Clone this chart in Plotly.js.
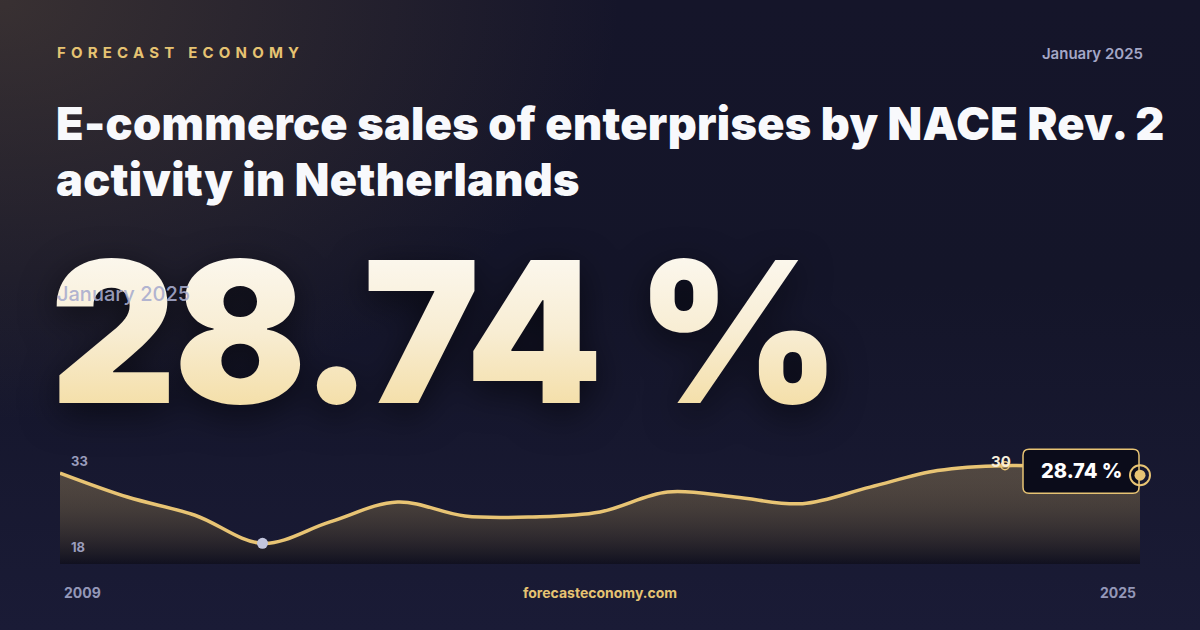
<!DOCTYPE html>
<html>
<head>
<meta charset="utf-8">
<script src="https://cdn.plot.ly/plotly-3.0.1.min.js"></script>
<style>
  html, body { margin: 0; padding: 0; }
  body {
    width: 1200px; height: 630px; overflow: hidden; position: relative;
    font-family: Inter, "Noto Sans", sans-serif;
    background:
      radial-gradient(ellipse 620px 420px at 0% 0%, rgba(100, 82, 60, 0.45), rgba(100, 82, 60, 0) 100%),
      linear-gradient(180deg, #15152a 0%, #141529 45%, #1a1b36 100%);
  }
  #chart { position: absolute; left: 0; top: 0; width: 1200px; height: 630px; }
  .txt { position: absolute; white-space: nowrap; }
  #brand { left: 57px; top: 43px; font-size: 15px; font-weight: 700; letter-spacing: 5.2px; color: #e6c372; }
  #date { right: 57px; top: 44px; font-size: 15px; font-weight: 600; color: #a4a7c6; }
  #title { left: 56px; top: 96px; font-size: 45px; font-weight: 900; line-height: 56px; color: #f8f9fc; letter-spacing: 0.3px; }
  #big {
    left: 50px; top: 222px; font-size: 196px; font-weight: 900; line-height: 220px; letter-spacing: -3px;
    background: linear-gradient(180deg, #fdfcf9 0%, #f8edd3 50%, #f2d894 100%);
    -webkit-background-clip: text; background-clip: text; -webkit-text-fill-color: transparent;
    filter: drop-shadow(0 10px 18px rgba(0, 0, 0, 0.55));
  }
  #bigdate { left: 57px; top: 282px; font-size: 20px; font-weight: 500; color: rgba(168, 172, 206, 0.9); }
</style>
</head>
<body>
<div id="chart"></div>
<div class="txt" id="brand">FORECAST ECONOMY</div>
<div class="txt" id="date">January 2025</div>
<div class="txt" id="title">E-commerce sales of enterprises by NACE Rev. 2<br>activity in Netherlands</div>
<div class="txt" id="big">28.74 %</div>
<div class="txt" id="bigdate">January 2025</div>
<script>
  const years = [2009, 2010, 2011, 2012, 2013, 2014, 2015, 2016, 2017, 2018, 2019, 2020, 2021, 2022, 2023, 2024, 2025];
  const sharePct = [29.0, 26.1, 23.9, 20.5, 23.1, 25.5, 23.8, 23.7, 24.3, 26.7, 26.1, 25.3, 27.3, 29.3, 29.9, 29.6, 28.74];
  const axisLabels = ["33", "18"];
  const latestLabel = "28.74 %";
  const peakLabel = "30";

  const gold = "#e8c474";
  const yRange = [18, 33];
  const last = years.length - 1;
  const minIdx = sharePct.indexOf(Math.min(...sharePct));
  const maxIdx = sharePct.indexOf(Math.max(...sharePct));

  const traces = [
    {
      x: years, y: sharePct, type: "scatter", mode: "lines",
      line: { color: gold, width: 3.5, shape: "spline", smoothing: 1 },
      fill: "tozeroy",
      fillgradient: {
        type: "vertical", start: 18, stop: 30,
        colorscale: [[0, "rgba(10, 9, 16, 0.55)"], [1, "rgba(236, 198, 112, 0.27)"]],
      },
      hoverinfo: "skip",
    },
    {
      x: [years[minIdx]], y: [sharePct[minIdx]], type: "scatter", mode: "markers",
      marker: { size: 11, color: "#c3c6de" }, hoverinfo: "skip",
    },
    {
      x: [years[maxIdx]], y: [sharePct[maxIdx]], type: "scatter", mode: "markers",
      marker: { size: 8, color: "rgba(0,0,0,0)", line: { color: gold, width: 1.5 } }, hoverinfo: "skip",
    },
  ];

  // label box and ring round the latest value; paper refs so the ring is not clipped at the plot edge
  const lastFrac = (sharePct[last] - yRange[0]) / (yRange[1] - yRange[0]);
  const pin = { xref: "paper", yref: "paper", xsizemode: "pixel", ysizemode: "pixel",
    xanchor: 1, yanchor: lastFrac, layer: "above" };
  const boxPath = "M -111 26 L -7 26 Q -1 26 -1 20 L -1 -12 Q -1 -18 -7 -18 L -111 -18 Q -117 -18 -117 -12 L -117 20 Q -117 26 -111 26 Z";
  const shapes = [
    { ...pin, type: "path", path: boxPath, fillcolor: "#0b0c1a", line: { color: gold, width: 1.5 } },
    { ...pin, type: "circle", x0: -10, x1: 10, y0: -10, y1: 10, fillcolor: "rgba(0,0,0,0)", line: { color: gold, width: 2 } },
    { ...pin, type: "circle", x0: -5.5, x1: 5.5, y0: -5.5, y1: 5.5, fillcolor: gold, line: { width: 0 } },
  ];

  const labelFont = { family: "Inter", size: 13, color: "#9a9dbd", weight: 700 };
  const footFont = { family: "Inter", size: 14, color: "#9497b8", weight: 700 };
  const annotations = [
    { xref: "paper", yref: "paper", x: 0.008, y: 0.83, text: axisLabels[0], showarrow: false,
      xanchor: "left", yanchor: "middle", font: labelFont },
    { xref: "paper", yref: "paper", x: 0.008, y: 0.14, text: axisLabels[1], showarrow: false,
      xanchor: "left", yanchor: "middle", font: labelFont },
    { xref: "x", yref: "y", x: years[maxIdx], y: sharePct[maxIdx], text: peakLabel, showarrow: false,
      xshift: -4, yshift: 4, font: { family: "Inter", size: 15, color: "#f6eedb", weight: 700 } },
    { xref: "x", yref: "y", x: years[last], y: sharePct[last], text: latestLabel, showarrow: false,
      xanchor: "center", yanchor: "middle", xshift: -59, yshift: 4,
      font: { family: "Inter", size: 20, color: "#ffffff", weight: 800 } },
    { xref: "paper", yref: "paper", x: 0.002, y: -0.226, text: String(years[0]), showarrow: false,
      xanchor: "left", yanchor: "middle", font: footFont },
    { xref: "paper", yref: "paper", x: 0.998, y: -0.226, text: String(years[last]), showarrow: false,
      xanchor: "right", yanchor: "middle", font: footFont },
    { xref: "paper", yref: "paper", x: 0.5, y: -0.226, text: "forecasteconomy.com", showarrow: false,
      xanchor: "center", yanchor: "middle", font: { ...footFont, color: "#e6c372" } },
  ];

  const layout = {
    width: 1200, height: 630,
    margin: { l: 60, r: 60, t: 440, b: 66 },
    paper_bgcolor: "rgba(0,0,0,0)", plot_bgcolor: "rgba(0,0,0,0)",
    showlegend: false,
    xaxis: { range: [years[0], years[last]], visible: false, fixedrange: true },
    yaxis: { range: yRange, visible: false, fixedrange: true },
    annotations,
    shapes,
  };

  Plotly.newPlot("chart", traces, layout, { staticPlot: true, displayModeBar: false });
</script>
</body>
</html>
